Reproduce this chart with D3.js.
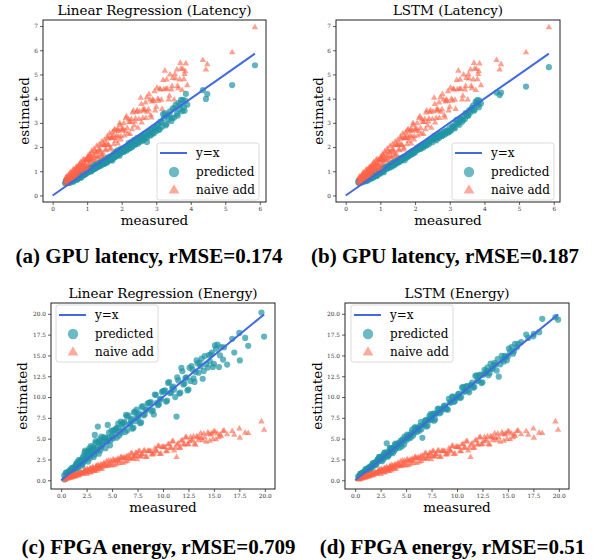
<!DOCTYPE html>
<html>
<head>
<meta charset="utf-8">
<script src="https://cdn.jsdelivr.net/npm/d3@7"></script>
<style>
body { margin: 0; background: #fff; }
</style>
</head>
<body>
<div id="chart"></div>
<script>
// Latency samples: measured value, naive sum estimate, and the two model predictions
var latMeasured = [
    0.36, 0.38, 0.40, 0.41, 0.43, 0.45, 0.47, 0.49, 0.50, 0.52,
    0.54, 0.56, 0.58, 0.60, 0.62, 0.64, 0.66, 0.68, 0.70, 0.72,
    0.74, 0.76, 0.78, 0.80, 0.82, 0.84, 0.86, 0.88, 0.90, 0.92,
    0.94, 0.96, 0.98, 1.00, 1.02, 1.04, 1.06, 1.08, 1.10, 1.13,
    1.16, 1.19, 1.22, 1.25, 1.28, 1.31, 1.34, 1.37, 1.40, 1.43,
    1.46, 1.49, 1.52, 1.55, 1.58, 1.61, 1.64, 1.67, 1.70, 1.73,
    1.76, 1.79, 1.82, 1.85, 1.88, 1.91, 1.94, 1.97, 2.00, 2.04,
    2.08, 2.12, 2.16, 2.20, 2.24, 2.28, 2.32, 2.36, 2.40, 2.45,
    2.50, 2.55, 2.58, 2.62, 2.66, 2.70, 2.73, 2.78, 2.82, 2.86,
    2.90, 2.95, 3.00, 3.05, 3.10, 3.15, 3.20, 3.25, 3.28, 3.32,
    3.36, 3.40, 3.44, 3.48, 3.52, 3.56, 3.60, 3.64, 3.68, 3.72,
    3.77, 3.80, 3.82, 3.86, 3.90, 4.35, 4.44, 4.48, 5.20, 5.86,
    0.39, 0.42, 0.44, 0.46, 0.48, 0.51, 0.53, 0.55, 0.57, 0.59,
    0.61, 0.63, 0.65, 0.67, 0.69, 0.71, 0.73, 0.75, 0.77, 0.79,
    0.81, 0.83, 0.85, 0.87, 0.89, 0.91, 0.93, 0.95, 0.97, 0.99,
    1.01, 1.03, 1.05, 1.07, 1.09, 1.11, 1.14, 1.17, 1.20, 1.23,
    1.26, 1.29, 1.32, 1.35, 1.38, 1.41, 1.44, 1.47, 1.50, 1.53,
    1.56, 1.59, 1.62, 1.65, 1.68, 1.71, 1.74, 1.77, 1.80, 1.83,
    1.86, 1.89, 1.92, 1.95, 1.98,
    2.02, 2.06, 2.10, 2.14, 2.18, 2.22, 2.26, 2.30, 2.34, 2.38,
    2.43, 2.47, 2.52, 2.57, 2.61, 2.65, 2.69, 2.74, 2.79, 2.84,
    2.88, 2.93, 2.97,
    3.02, 3.07, 3.12, 3.17, 3.22, 3.30, 3.38, 3.46, 3.54, 3.62,
    3.70, 3.75, 3.84
];
var latNaive = [
    0.59, 0.49, 0.77, 0.61, 0.75, 0.52, 0.77, 0.88, 0.67, 0.78,
    0.91, 0.78, 1.04, 0.73, 0.95, 0.95, 0.82, 1.17, 0.97, 1.14,
    0.85, 1.15, 1.29, 1.03, 1.16, 1.32, 1.14, 1.47, 1.08, 1.34,
    1.27, 1.46, 1.12, 1.47, 1.62, 1.31, 1.47, 1.65, 1.44, 1.83,
    1.46, 1.63, 1.84, 1.62, 2.04, 1.55, 1.88, 1.89, 1.68, 2.22,
    1.72, 2.08, 2.08, 1.86, 2.43, 2.10, 2.38, 1.89, 2.39, 2.61,
    2.46, 2.69, 2.24, 2.47, 2.74, 2.43, 2.98, 2.31, 2.74, 2.75,
    2.47, 3.19, 2.78, 3.13, 2.53, 3.15, 3.42, 2.89, 3.17, 3.51,
    3.15, 4.03, 3.01, 3.55, 3.55, 3.20, 4.05, 3.55, 3.96, 3.22,
    3.96, 4.30, 3.66, 3.99, 4.40, 3.95, 4.76, 5.15, 4.40, 4.40,
    3.96, 4.99, 4.37, 4.85, 3.96, 4.83, 5.20, 4.42, 4.79, 5.24,
    5.22, 4.80, 5.01, 5.45, 4.55, 5.59, 5.20, 5.42, 5.91, 6.94,
    0.74, 0.57, 0.68, 0.81, 0.68, 0.95, 0.65, 0.86, 0.86, 0.74,
    1.07, 0.88, 1.05, 0.77, 1.06, 1.19, 0.94, 1.07, 1.23, 1.06,
    1.37, 0.99, 1.25, 1.25, 1.09, 1.49, 1.25, 1.45, 1.11, 1.45,
    1.53, 1.17, 1.53, 1.69, 1.37, 1.53, 1.73, 1.52, 1.92, 1.45,
    1.78, 1.79, 1.59, 2.11, 1.81, 2.07, 1.63, 2.08, 2.29, 1.90,
    2.10, 2.34, 2.07, 2.56, 1.97, 2.36, 2.37, 2.11, 2.74, 2.37,
    2.67, 2.14, 2.67, 2.91, 2.44,
    2.69, 2.98, 2.66, 3.26, 2.55, 3.03, 3.03, 2.73, 3.50, 3.05,
    3.44, 2.79, 3.46, 3.77, 3.19, 3.49, 3.84, 3.45, 4.18, 3.31,
    3.88, 3.90, 3.51,
    4.45, 3.91, 4.37, 3.57, 4.38, 4.79, 4.11, 4.51, 5.00, 4.52,
    5.47, 4.35, 5.13
];
var latLinReg = [
    0.50, 0.58, 0.53, 0.62, 0.55, 0.66, 0.58, 0.52, 0.63, 0.69,
    0.60, 0.70, 0.64, 0.57, 0.74, 0.66, 0.78, 0.70, 0.65, 0.82,
    0.73, 0.86, 0.77, 0.90, 0.80, 0.75, 0.94, 0.84, 0.98, 0.86,
    0.90, 1.04, 0.93, 1.08, 0.97, 1.12, 0.98, 1.05, 1.16, 1.02,
    1.20, 1.08, 1.26, 1.12, 1.32, 1.18, 1.22, 1.38, 1.26, 1.33,
    1.46, 1.30, 1.52, 1.40, 1.36, 1.58, 1.46, 1.62, 1.50, 1.44,
    1.70, 1.58, 1.80, 1.66, 1.86, 1.72, 1.64, 1.92, 1.80, 1.96,
    1.84, 2.02, 1.90, 2.16, 1.96, 2.22, 2.04, 2.30, 2.12, 2.38,
    2.20, 2.40, 2.46, 2.28, 2.56, 2.38, 2.21, 2.62, 2.50, 2.72,
    2.58, 2.80, 2.66, 2.95, 2.74, 3.02, 3.36, 3.40, 2.90, 3.30,
    3.15, 3.48, 3.08, 3.60, 3.22, 3.74, 3.38, 3.82, 3.55, 3.95,
    3.95, 3.65, 3.50, 4.20, 3.75, 4.35, 3.99, 4.19, 4.56, 5.38,
    0.60, 0.51, 0.57, 0.64, 0.54, 0.61, 0.68, 0.57, 0.64, 0.72,
    0.62, 0.75, 0.68, 0.80, 0.72, 0.66, 0.83, 0.76, 0.88, 0.72,
    0.92, 0.82, 0.96, 0.88, 1.00, 0.85, 0.95, 1.04, 0.90, 1.08,
    0.95, 1.06, 1.00, 1.12, 1.04, 0.99, 1.14, 1.08, 1.22, 1.12,
    1.16, 1.28, 1.20, 1.34, 1.22, 1.38, 1.28, 1.42, 1.32, 1.46,
    1.38, 1.52, 1.44, 1.58, 1.48, 1.62, 1.54, 1.70, 1.58, 1.76,
    1.64, 1.80, 1.70, 1.88, 1.76,
    1.92, 1.80, 1.98, 1.86, 2.06, 1.94, 2.14, 2.00, 2.20, 2.10,
    2.26, 2.14, 2.36, 2.24, 2.44, 2.32, 2.52, 2.40, 2.60, 2.48,
    2.68, 2.56, 2.78,
    2.86, 2.70, 3.05, 2.84, 3.20, 2.96, 3.35, 3.20, 3.60, 3.30,
    3.75, 3.48, 3.92
];
var latLstm = [
    0.56, 0.62, 0.52, 0.60, 0.66, 0.55, 0.63, 0.58, 0.67, 0.60,
    0.70, 0.62, 0.75, 0.67, 0.61, 0.78, 0.70, 0.66, 0.82, 0.74,
    0.70, 0.84, 0.78, 0.74, 0.88, 0.80, 0.92, 0.84, 0.80, 0.95,
    0.88, 1.00, 0.94, 0.91, 1.06, 0.98, 1.10, 1.01, 0.96, 1.14,
    1.10, 1.18, 1.12, 1.24, 1.16, 1.29, 1.20, 1.34, 1.25, 1.30,
    1.40, 1.34, 1.48, 1.38, 1.54, 1.44, 1.50, 1.60, 1.46, 1.64,
    1.56, 1.70, 1.62, 1.76, 1.68, 1.82, 1.72, 1.86, 1.78, 1.92,
    1.88, 2.00, 1.92, 2.08, 1.98, 2.14, 2.06, 2.22, 2.12, 2.28,
    2.20, 2.45, 2.36, 2.28, 2.46, 2.38, 2.54, 2.46, 2.62, 2.52,
    2.68, 2.60, 2.78, 2.70, 2.86, 2.78, 3.12, 3.02, 2.92, 3.14,
    3.05, 3.28, 3.16, 3.38, 3.30, 3.52, 3.44, 3.62, 3.72, 3.55,
    3.85, 3.95, 3.75, 3.92, 3.80, 4.25, 4.15, 4.25, 4.50, 5.30,
    0.53, 0.64, 0.58, 0.54, 0.67, 0.61, 0.57, 0.70, 0.64, 0.60,
    0.73, 0.67, 0.79, 0.70, 0.76, 0.83, 0.72, 0.86, 0.78, 0.84,
    0.77, 0.90, 0.84, 0.96, 0.88, 0.86, 0.99, 0.92, 1.03, 0.95,
    1.04, 0.97, 1.10, 1.02, 1.14, 1.08, 1.18, 1.10, 1.16, 1.22,
    1.20, 1.30, 1.24, 1.36, 1.28, 1.40, 1.34, 1.45, 1.38, 1.50,
    1.44, 1.52, 1.48, 1.58, 1.54, 1.62, 1.58, 1.68, 1.64, 1.74,
    1.70, 1.78, 1.74, 1.84, 1.80,
    1.86, 1.98, 1.92, 2.04, 1.98, 2.10, 2.04, 2.16, 2.10, 2.22,
    2.24, 2.34, 2.30, 2.42, 2.36, 2.48, 2.42, 2.56, 2.48, 2.62,
    2.56, 2.68, 2.62,
    2.66, 2.86, 2.80, 3.00, 2.96, 3.18, 3.12, 3.40, 3.30, 3.55,
    3.50, 3.88, 3.65
];

// Energy samples: measured value, naive sum estimate, and the two model predictions
var enMeasured = [
    0.30, 0.40, 0.50, 0.60, 0.70, 0.80, 0.90, 1.00, 1.10, 1.20,
    1.30, 1.40, 1.50, 1.60, 1.70, 1.80, 1.90, 2.00, 2.10, 2.20,
    2.30, 2.40, 2.50, 2.60, 2.70, 2.80, 2.90, 3.00, 3.10, 3.20,
    3.30, 3.40, 3.50, 3.60, 3.70, 3.80, 3.90, 4.00, 4.15, 4.30,
    4.45, 4.57, 4.70, 4.85, 5.00, 5.15, 5.30, 5.45, 5.60, 5.75,
    5.90, 6.05, 6.20, 6.37, 6.50, 6.60, 6.80, 6.95, 7.10, 7.25,
    7.40, 7.55, 7.70, 7.85, 8.00, 8.20, 8.40, 8.60, 8.80, 8.90,
    9.10, 9.30, 9.50, 9.70, 9.90, 10.10, 10.30, 10.50, 10.70, 10.90,
    11.10, 11.33, 11.50, 11.70, 11.80, 12.00, 12.20, 12.40, 12.60, 12.70,
    12.90, 13.10, 13.30, 13.50, 13.70, 13.90, 14.10, 14.40, 14.60, 14.80,
    15.00, 15.20, 15.35, 15.50, 15.70, 15.90, 16.30, 16.80, 17.00, 17.50,
    17.55, 18.07, 18.37, 19.67, 19.93,
    0.35, 0.45, 0.55, 0.65, 0.75, 0.85, 0.95, 1.05, 1.15, 1.25,
    1.35, 1.45, 1.55, 1.65, 1.75, 1.85, 1.95, 2.05, 2.15, 2.25,
    2.35, 2.45, 2.55, 2.65, 2.75, 2.85, 2.95, 3.05, 3.15, 3.25,
    3.35, 3.45, 3.55, 3.65, 3.75, 3.85, 3.95, 4.05, 4.20, 4.35,
    4.50, 4.65, 4.80, 4.95, 5.10, 5.25, 5.40, 5.55, 5.70, 5.85,
    6.00, 6.15, 6.30, 6.45, 6.70, 6.85, 7.00, 7.15, 7.30, 7.45,
    7.60, 7.75, 7.90, 8.10, 8.30, 8.50, 8.70, 9.00, 9.20, 9.40,
    9.60, 9.80, 10.00, 10.20, 10.40, 10.60, 10.80, 11.00, 11.20, 11.40,
    11.60, 11.90, 12.10, 12.30, 12.50, 12.80, 13.00, 13.20, 13.40, 13.60,
    13.80, 14.00, 14.25, 14.50, 14.70, 14.90, 15.10, 15.60, 16.00
];
var enNaive = [
    0.15, 0.07, 0.28, 0.22, 0.41, 0.28, 0.38, 0.52, 0.34, 0.55,
    0.50, 0.74, 0.56, 0.67, 0.83, 0.61, 0.86, 0.87, 0.76, 1.01,
    0.97, 1.25, 0.75, 1.21, 1.19, 0.94, 1.40, 1.17, 1.60, 1.19,
    1.13, 1.62, 1.37, 1.83, 1.39, 1.60, 1.89, 1.36, 1.87, 1.87,
    2.27, 1.72, 1.97, 2.36, 1.75, 2.36, 2.33, 1.98, 2.59, 2.28,
    2.81, 2.05, 2.73, 2.69, 2.29, 2.95, 2.61, 3.24, 2.62, 2.89,
    3.21, 2.86, 3.49, 2.87, 3.14, 3.57, 2.82, 3.52, 3.49, 3.08,
    3.23, 3.57, 4.08, 3.15, 3.99, 3.94, 3.46, 4.30, 3.87, 4.65,
    3.56, 2.77, 4.42, 3.88, 4.75, 4.28, 5.13, 4.29, 4.66, 5.17,
    4.88, 4.34, 5.25, 4.78, 5.62, 4.79, 5.15, 5.73, 4.72, 5.62,
    5.85, 4.90, 5.60, 5.15, 5.30, 5.90, 5.50, 5.90, 5.45, 6.20,
    5.10, 5.70, 5.65, 7.05, 6.05,
    0.09, 0.19, 0.33, 0.15, 0.36, 0.38, 0.30, 0.51, 0.45, 0.65,
    0.42, 0.67, 0.68, 0.57, 0.83, 0.73, 0.97, 0.79, 0.90, 1.07,
    1.17, 0.94, 1.37, 0.96, 1.16, 1.44, 0.94, 1.40, 1.38, 1.13,
    1.41, 1.71, 1.17, 1.66, 1.64, 1.36, 1.85, 1.61, 2.08, 1.67,
    1.77, 2.35, 1.82, 2.08, 2.50, 1.83, 2.44, 2.41, 2.06, 2.67,
    2.66, 2.62, 2.22, 2.90, 2.58, 3.21, 2.59, 2.86, 3.27, 2.51,
    3.46, 2.84, 3.11, 3.53, 2.79, 3.49, 3.46, 3.11, 3.81, 3.47,
    4.11, 3.18, 4.02, 3.98, 3.49, 4.33, 3.90, 4.68, 3.92, 4.26,
    3.85, 4.79, 4.31, 5.16, 4.33, 4.72, 5.27, 4.26, 5.16, 5.11,
    5.05, 5.60, 4.60, 5.53, 5.47, 4.94, 5.84, 5.47, 5.95
];
var enLinReg = [
    0.58, 0.26, 0.95, 0.63, 0.87, 0.55, 1.28, 0.96, 1.20, 1.51,
    1.40, 1.70, 1.20, 2.20, 1.70, 2.00, 2.40, 2.45, 1.95, 2.90,
    3.34, 2.48, 2.90, 3.48, 3.50, 2.64, 4.10, 3.24, 3.66, 2.80,
    5.45, 4.70, 3.72, 6.45, 3.20, 4.92, 3.94, 4.40, 5.09, 5.15,
    4.93, 6.65, 5.72, 4.79, 5.30, 5.99, 6.05, 5.12, 6.80, 5.87,
    5.70, 6.25, 7.00, 7.85, 6.00, 7.80, 6.80, 7.35, 6.30, 8.25,
    8.50, 7.45, 8.00, 6.95, 8.90, 7.90, 8.50, 9.30, 9.40, 8.30,
    7.90, 10.26, 9.02, 9.70, 10.62, 10.70, 9.46, 11.70, 10.46, 11.14,
    10.90, 7.65, 12.00, 10.52, 13.50, 11.52, 12.28, 10.80, 13.52, 11.94,
    13.30, 11.82, 14.40, 12.92, 13.68, 12.20, 14.92, 13.54, 14.30, 15.34,
    14.00, 15.80, 16.30, 13.60, 16.00, 14.50, 13.90, 17.00, 15.35, 17.70,
    14.40, 17.10, 16.15, 20.16, 17.27,
    0.10, 0.83, 0.51, 0.75, 1.06, 1.13, 0.81, 1.50, 1.18, 1.42,
    1.55, 1.95, 2.00, 1.50, 2.45, 1.95, 2.25, 1.75, 2.75, 2.25,
    3.55, 2.69, 3.11, 2.25, 3.79, 2.93, 3.35, 3.93, 3.95, 3.09,
    4.47, 3.49, 3.95, 4.59, 4.60, 3.62, 5.25, 4.27, 4.78, 3.85,
    4.62, 5.13, 4.20, 5.97, 5.04, 5.55, 6.24, 6.30, 5.37, 7.05,
    6.80, 6.85, 5.80, 7.65, 6.70, 7.25, 6.20, 8.15, 7.10, 7.65,
    7.90, 6.85, 8.80, 7.80, 8.40, 9.20, 9.30, 8.40, 10.30, 9.30,
    9.12, 9.80, 10.72, 10.80, 9.56, 11.80, 10.56, 11.24, 10.00, 12.36,
    10.42, 13.10, 11.62, 12.38, 10.90, 13.72, 12.24, 13.00, 14.04, 14.10,
    14.62, 13.14, 13.95, 15.04, 15.10, 13.62, 16.20, 15.02, 15.98
];
var enLstm = [
    0.46, 0.38, 0.78, 0.68, 0.90, 0.72, 1.02, 1.24, 1.12, 1.30,
    1.32, 1.60, 1.28, 1.68, 1.96, 1.73, 1.95, 2.14, 1.97, 2.52,
    2.40, 2.77, 2.37, 2.65, 2.89, 2.58, 3.36, 3.00, 4.45, 2.84,
    3.00, 3.85, 3.45, 3.85, 3.25, 3.85, 4.25, 3.80, 4.15, 4.45,
    4.73, 4.07, 4.76, 5.24, 4.78, 5.15, 5.47, 5.12, 6.10, 5.69,
    6.32, 5.81, 6.20, 6.55, 6.14, 5.10, 6.74, 7.25, 6.56, 7.31,
    7.94, 7.49, 8.00, 7.31, 8.06, 8.62, 8.16, 8.60, 8.98, 8.54,
    8.47, 9.37, 9.99, 9.42, 9.90, 10.31, 9.88, 11.13, 10.63, 11.25,
    10.78, 11.33, 11.74, 11.22, 12.52, 11.92, 12.60, 11.68, 12.68, 13.26,
    13.14, 12.62, 14.02, 13.42, 14.10, 13.18, 12.45, 14.96, 14.28, 14.80,
    14.90, 15.40, 16.00, 15.20, 16.40, 16.00, 16.60, 17.50, 17.10, 17.30,
    17.60, 17.80, 19.40, 19.60, 19.30,
    0.27, 0.57, 0.79, 0.67, 0.85, 1.01, 0.93, 1.33, 1.23, 1.45,
    1.28, 1.50, 1.69, 1.52, 2.07, 1.87, 2.15, 1.83, 2.23, 2.51,
    2.81, 2.45, 2.83, 2.29, 2.85, 3.22, 2.82, 3.10, 3.34, 3.03,
    3.40, 3.80, 3.35, 3.65, 3.90, 3.55, 4.40, 4.00, 4.45, 3.90,
    4.44, 4.93, 4.30, 5.01, 5.49, 5.03, 5.40, 5.72, 5.37, 6.35,
    6.00, 6.33, 5.94, 6.99, 6.64, 7.15, 6.46, 7.21, 7.72, 7.21,
    7.93, 7.16, 7.97, 8.56, 8.04, 8.50, 8.90, 8.61, 9.79, 9.33,
    10.09, 9.52, 10.00, 10.41, 9.98, 11.23, 10.73, 11.35, 10.57, 11.47,
    11.12, 12.62, 12.02, 12.70, 11.78, 12.88, 13.56, 12.88, 13.40, 13.84,
    13.88, 14.56, 13.93, 14.50, 14.94, 14.42, 15.82, 15.52, 16.40
];

// Tick values
var latTicksX = [0, 1, 2, 3, 4, 5, 6];
var latTicksY = [0, 1, 2, 3, 4, 5, 6, 7];
var enTicks = [0, 2.5, 5, 7.5, 10, 12.5, 15, 17.5, 20];

// Texts
var titles = ["Linear Regression (Latency)", "LSTM (Latency)", "Linear Regression (Energy)", "LSTM (Energy)"];
var captions = ["(a) GPU latency, rMSE=0.174", "(b) GPU latency, rMSE=0.187",
                "(c) FPGA energy, rMSE=0.709", "(d) FPGA energy, rMSE=0.51"];
var legendLabels = ["y=x", "predicted", "naive add"];

var teal = "#1f94a4";
var tomato = "tomato";
var blue = "royalblue";
var serif = "'DejaVu Serif', serif";

function drawPanel(svg, p) {
    var x0 = p.box[0], y0 = p.box[1], x1 = p.box[2], y1 = p.box[3];

    var xScale = d3.scaleLinear().domain(p.xDomain).range([x0, x1]);
    var yScale = d3.scaleLinear().domain(p.yDomain).range([y1, y0]);

    var g = svg.append("g");

    // axes
    var xAxis = d3.axisBottom(xScale).tickValues(p.xTicks).tickFormat(p.fmt).tickSize(3).tickPadding(2);
    var yAxis = d3.axisLeft(yScale).tickValues(p.yTicks).tickFormat(p.fmt).tickSize(3).tickPadding(2);

    var gx = g.append("g").attr("transform", "translate(0," + y1 + ")").call(xAxis);
    var gy = g.append("g").attr("transform", "translate(" + x0 + ",0)").call(yAxis);
    [gx, gy].forEach(function(a) {
        a.select(".domain").remove();
        a.selectAll("line").attr("stroke", "#333").attr("stroke-width", 0.8);
        a.selectAll("text").attr("fill", "#333").style("font-family", serif).style("font-size", "5.8px");
    });

    var rows = p.measured.map(function(m, i) {
        return { m: m, pred: p.predicted[i], naive: p.naive[i] };
    });

    // predicted circles
    g.append("g").selectAll("circle")
        .data(rows)
        .enter()
        .append("circle")
        .attr("cx", function(d) { return xScale(d.m); })
        .attr("cy", function(d) { return yScale(d.pred); })
        .attr("r", 3.1)
        .attr("fill", teal)
        .attr("fill-opacity", 0.7);

    // naive add triangles
    var tri = d3.symbol().type(d3.symbolTriangle).size(18);
    g.append("g").selectAll("path")
        .data(rows)
        .enter()
        .append("path")
        .attr("d", tri)
        .attr("transform", function(d) {
            return "translate(" + xScale(d.m) + "," + yScale(d.naive) + ")";
        })
        .attr("fill", tomato)
        .attr("fill-opacity", 0.6);

    // y = x line on top
    var maxM = d3.max(p.measured);
    g.append("line")
        .attr("x1", xScale(0)).attr("y1", yScale(0))
        .attr("x2", xScale(maxM)).attr("y2", yScale(maxM))
        .attr("stroke", blue)
        .attr("stroke-width", 2);

    // frame
    g.append("rect")
        .attr("x", x0).attr("y", y0)
        .attr("width", x1 - x0).attr("height", y1 - y0)
        .attr("fill", "none")
        .attr("stroke", "#222")
        .attr("stroke-width", 1);

    // title and axis labels
    g.append("text")
        .attr("x", (x0 + x1) / 2).attr("y", y0 - 5)
        .attr("text-anchor", "middle")
        .style("font-family", serif).style("font-size", "13.5px")
        .text(p.title);

    g.append("text")
        .attr("x", (x0 + x1) / 2).attr("y", y1 + 23)
        .attr("text-anchor", "middle")
        .style("font-family", serif).style("font-size", "13.5px")
        .text("measured");

    g.append("text")
        .attr("transform", "translate(" + p.yLabelX + "," + ((y0 + y1) / 2) + ") rotate(-90)")
        .attr("text-anchor", "middle")
        .style("font-family", serif).style("font-size", "13.5px")
        .text("estimated");

    // legend
    var lg = g.append("g").attr("transform", "translate(" + p.legend[0] + "," + p.legend[1] + ")");
    lg.append("rect")
        .attr("width", 102).attr("height", 57)
        .attr("rx", 2.5)
        .attr("fill", "#fff").attr("fill-opacity", 0.8)
        .attr("stroke", "#d0d0d0").attr("stroke-width", 0.8);
    var rowY = [10, 29, 47];
    lg.append("line")
        .attr("x1", 3).attr("x2", 30)
        .attr("y1", rowY[0]).attr("y2", rowY[0])
        .attr("stroke", blue).attr("stroke-width", 2);
    lg.append("circle")
        .attr("cx", 17).attr("cy", rowY[1]).attr("r", 5.2)
        .attr("fill", teal).attr("fill-opacity", 0.65);
    lg.append("path")
        .attr("d", d3.symbol().type(d3.symbolTriangle).size(50))
        .attr("transform", "translate(17," + (rowY[2] + 0.5) + ")")
        .attr("fill", tomato).attr("fill-opacity", 0.55);
    lg.selectAll("text.lab")
        .data(legendLabels)
        .enter()
        .append("text")
        .attr("x", 39)
        .attr("y", function(d, i) { return rowY[i]; })
        .attr("dy", "0.36em")
        .style("font-family", serif).style("font-size", "12px")
        .text(function(d) { return d; });

    // caption
    svg.append("text")
        .attr("x", p.capX).attr("y", p.capY)
        .attr("text-anchor", "middle")
        .style("font-family", "'Liberation Serif', serif")
        .style("font-weight", "bold")
        .style("font-size", "21px")
        .text(p.caption);
}

function init() {
    var svg = d3.select("#chart")
                .append("svg")
                .attr("width", 600)
                .attr("height", 560);

    var fmtInt = d3.format("d");
    var fmtOne = d3.format(".1f");

    var panels = [
        { title: titles[0], caption: captions[0], measured: latMeasured, predicted: latLinReg, naive: latNaive,
          box: [43, 20, 266, 202], xDomain: [-0.28, 6.18], yDomain: [-0.27, 7.25],
          xTicks: latTicksX, yTicks: latTicksY, fmt: fmtInt,
          legend: [157, 143], yLabelX: 29, capX: 149, capY: 263 },
        { title: titles[1], caption: captions[1], measured: latMeasured, predicted: latLstm, naive: latNaive,
          box: [336, 20, 560, 202], xDomain: [-0.28, 6.18], yDomain: [-0.27, 7.25],
          xTicks: latTicksX, yTicks: latTicksY, fmt: fmtInt,
          legend: [452, 143], yLabelX: 323, capX: 445, capY: 263 },
        { title: titles[2], caption: captions[2], measured: enMeasured, predicted: enLinReg, naive: enNaive,
          box: [51, 303, 275, 489], xDomain: [-1.0, 21.0], yDomain: [-1.05, 21.3],
          xTicks: enTicks, yTicks: enTicks, fmt: fmtOne,
          legend: [56, 305], yLabelX: 27, capX: 158.5, capY: 554 },
        { title: titles[3], caption: captions[3], measured: enMeasured, predicted: enLstm, naive: enNaive,
          box: [345, 303, 569, 489], xDomain: [-1.0, 21.0], yDomain: [-1.05, 21.3],
          xTicks: enTicks, yTicks: enTicks, fmt: fmtOne,
          legend: [351, 305], yLabelX: 322, capX: 452.5, capY: 554 }
    ];

    panels.forEach(function(p) { drawPanel(svg, p); });
}

window.onload = init;
</script>
</body>
</html>
